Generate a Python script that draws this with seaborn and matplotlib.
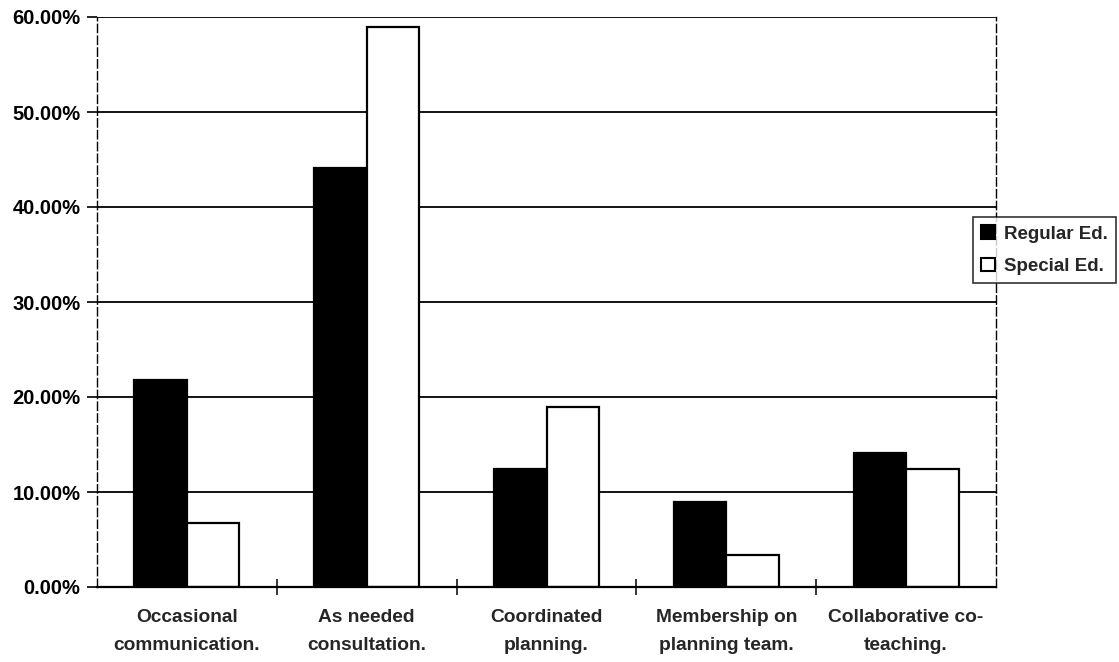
import numpy as np
import pandas as pd
import matplotlib
matplotlib.use("Agg")
import matplotlib.pyplot as plt
import seaborn as sns
from matplotlib.ticker import FixedLocator, FuncFormatter
from matplotlib.patches import Patch

# Share of respondents by type of collaboration (percent)
categories = [
    "Occasional\ncommunication.",
    "As needed\nconsultation.",
    "Coordinated\nplanning.",
    "Membership on\nplanning team.",
    "Collaborative co-\nteaching.",
]
regular_ed = [21.8, 44.1, 12.4, 9.0, 14.1]
special_ed = [6.7, 58.9, 19.0, 3.4, 12.4]
series_names = ["Regular Ed.", "Special Ed."]
y_ticks = [0, 10, 20, 30, 40, 50, 60]

df = pd.DataFrame({
    "category": categories * 2,
    "group": [series_names[0]] * len(categories) + [series_names[1]] * len(categories),
    "share": regular_ed + special_ed,
})

sns.set_style("white")
plt.rcParams["font.family"] = ["Liberation Sans", "DejaVu Sans"]
plt.rcParams["font.weight"] = "bold"

W, H = 1119, 662
fig = plt.figure(figsize=(W / 100, H / 100), dpi=100)
ax = fig.add_axes([97 / W, 75 / H, (996 - 97) / W, (587 - 17) / H])

palette = {series_names[0]: "black", series_names[1]: "white"}
sns.barplot(
    data=df, x="category", y="share", hue="group", palette=palette,
    edgecolor="black", linewidth=1.6, width=0.585, saturation=1,
    ax=ax, legend=False,
)

ax.set_xlim(-0.5, len(categories) - 0.5)
ax.set_ylim(0, 60)
ax.set_xlabel("")
ax.set_ylabel("")

# y axis: percent labels and horizontal gridlines
ax.yaxis.set_major_locator(FixedLocator(y_ticks))
ax.yaxis.set_major_formatter(FuncFormatter(lambda v, _: f"{v:.2f}%"))
ax.yaxis.grid(True, color="black", linewidth=1.3)
ax.set_axisbelow(True)
ax.tick_params(axis="y", length=7, width=1.2, direction="out", pad=5,
               labelsize=14.5, colors="black", left=True)

# x axis: labels centred on groups, tick marks between groups
ax.tick_params(axis="x", which="major", length=0, pad=16, labelsize=13.8)
ax.xaxis.set_minor_locator(FixedLocator(np.arange(0.5, len(categories) - 1, 1.0)))
ax.tick_params(axis="x", which="minor", length=11, width=1.1, direction="inout",
               bottom=True, colors="black")
for lbl in ax.get_xticklabels():
    lbl.set_linespacing(1.85)

# frame
ax.spines["top"].set_visible(False)
for side in ("left", "right"):
    ax.spines[side].set_linestyle((0, (6, 2.5)))
    ax.spines[side].set_linewidth(1.0)
    ax.spines[side].set_color("black")
ax.spines["bottom"].set_linewidth(1.6)
ax.spines["bottom"].set_color("black")

# legend box at the right edge
handles = [
    Patch(facecolor="black", edgecolor="black", linewidth=1.5),
    Patch(facecolor="white", edgecolor="black", linewidth=1.5),
]
leg = fig.legend(
    handles, series_names, loc="upper left",
    bbox_to_anchor=(973 / W, 1 - 217 / H), frameon=True, fancybox=False,
    edgecolor="black", fontsize=13.5, handlelength=0.7, handleheight=0.7,
    handletextpad=0.5, labelspacing=0.8, borderpad=0.45, borderaxespad=0,
)
leg.get_frame().set_linewidth(1.2)

fig.savefig("out.png", dpi=100)
